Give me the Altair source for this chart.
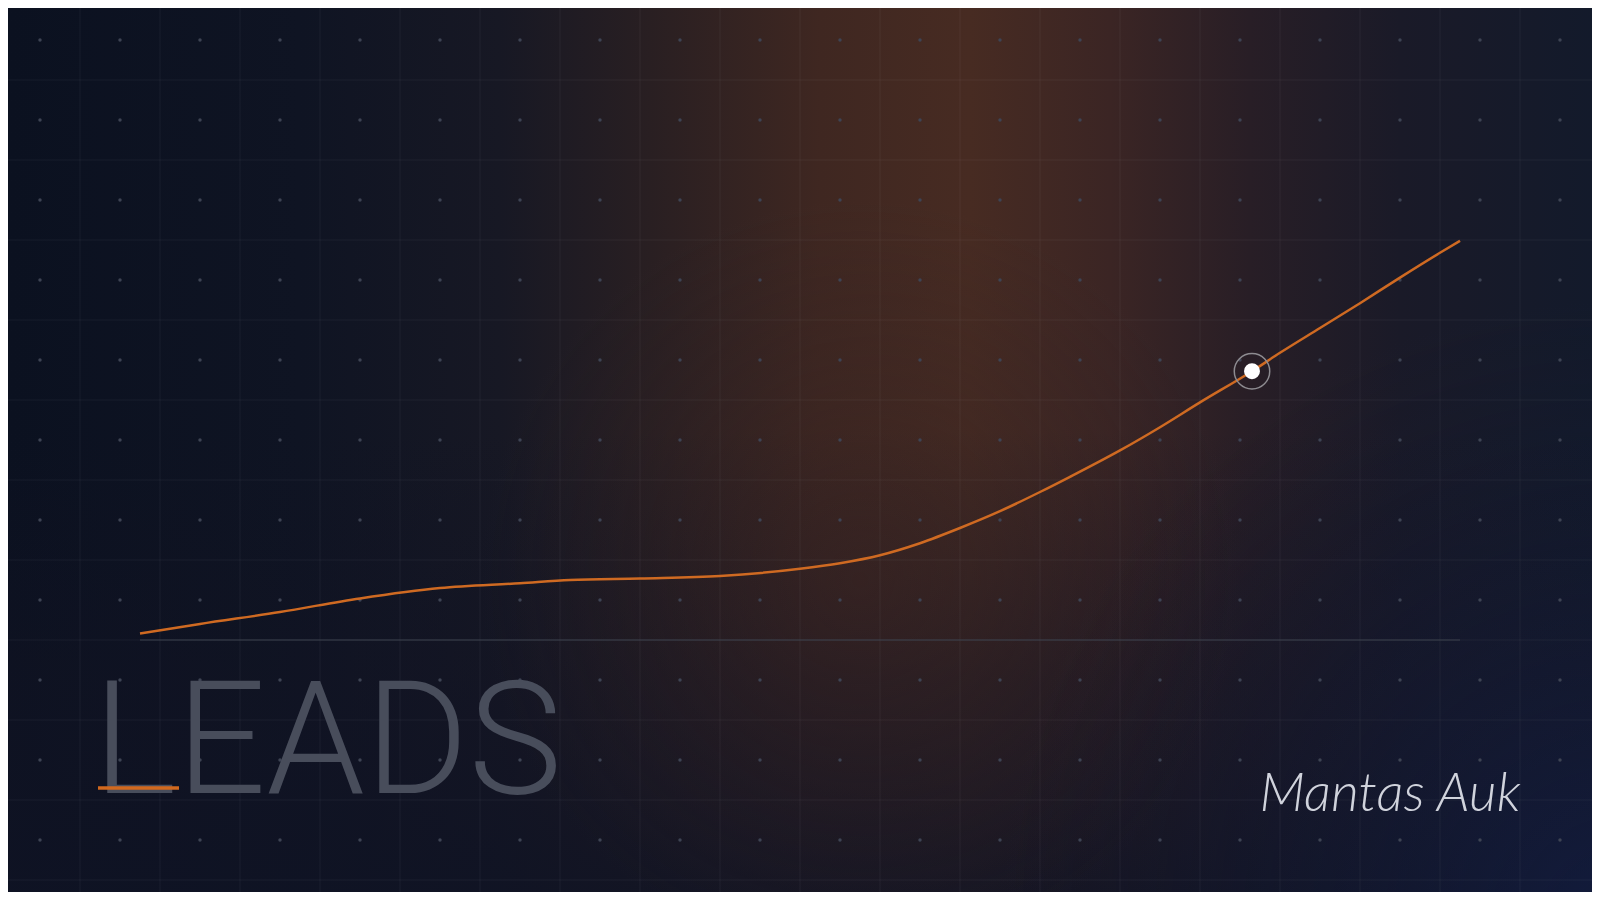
import altair as alt
import pandas as pd

# ---- data ----
week = [1.75, 2.5, 3.5, 4.5, 5.5, 6.5, 7.125, 8, 9, 10, 10.5, 11, 11.5, 12, 12.5,
        13, 13.375, 14, 14.5, 15, 15.65, 16, 16.5, 17, 17.5, 18, 18.25]
leads = [308, 320, 335, 352, 365, 371, 375, 377, 380, 389, 396, 406, 421, 440, 461,
         485, 504, 537, 566, 597, 636, 659, 690, 721, 753, 784, 799]
highlight_week = [15.65]
highlight_leads = [636]
grid_weeks = list(range(1, 20))
grid_leads = list(range(0, 1001, 100))
dot_weeks = [w + 0.5 for w in range(0, 20)]
dot_leads = [v + 50 for v in range(0, 1001, 100)]
baseline_leads = [300]
title_text = ["LEADS"]
signature_text = ["Mantas Auk"]

W, H = 1584, 884
xs = alt.Scale(domain=[0.1, 19.9], nice=False, zero=False)
ys = alt.Scale(domain=[-15, 1090], nice=False, zero=False)

line_df = pd.DataFrame({"week": week, "leads": leads})
hl_df = pd.DataFrame({"week": highlight_week, "leads": highlight_leads})
gx_df = pd.DataFrame({"week": grid_weeks})
gy_df = pd.DataFrame({"leads": grid_leads})
dots_df = pd.DataFrame([(w, v) for w in dot_weeks for v in dot_leads], columns=["week", "leads"])
title_df = pd.DataFrame({"t": title_text})
sig_df = pd.DataFrame({"t": signature_text})
one = pd.DataFrame({"k": [0]})


def stops_of(pairs):
    return [{"offset": o, "color": c} for o, c in pairs]


def sx(px):  # screen x -> gradient offset across the plot
    return round((px - 8) / W, 4)


def sy(py):
    return round((py - 8) / H, 4)


band = alt.Chart(one).mark_rect(
    fill={"gradient": "linear", "x1": 0, "y1": 0, "x2": 1, "y2": 0,
          "stops": stops_of([
              (0, "#0b1120"), (sx(300), "#0f1423"), (sx(500), "#171824"),
              (sx(650), "#291f22"), (sx(820), "#3f2721"), (sx(970), "#472b22"),
              (sx(1110), "#3b2524"), (sx(1250), "#281e26"), (sx(1400), "#1a1a28"),
              (1, "#131a2b")])},
    stroke="transparent",
).encode(x=alt.value(0), x2=alt.value(W), y=alt.value(0), y2=alt.value(H))

fade = alt.Chart(one).mark_rect(
    fill={"gradient": "linear", "x1": 0, "y1": 0, "x2": 0, "y2": 1,
          "stops": stops_of([
              (0, "rgba(16,18,34,0)"), (sy(430), "rgba(16,18,34,0)"),
              (sy(680), "rgba(17,19,35,0.55)"), (1, "rgba(15,19,36,0.85)")])},
    stroke="transparent",
).encode(x=alt.value(0), x2=alt.value(W), y=alt.value(0), y2=alt.value(H))


def glow(cx, cy, r, stops):
    return alt.Chart(one).mark_rect(
        fill={"gradient": "radial", "x1": 0.5, "y1": 0.5, "r1": 0,
              "x2": 0.5, "y2": 0.5, "r2": 0.5, "stops": stops_of(stops)},
        stroke="transparent",
    ).encode(
        x=alt.value(cx - 8 - r), x2=alt.value(cx - 8 + r),
        y=alt.value(cy - 8 - r), y2=alt.value(cy - 8 + r),
    )


glow_mid = glow(860, 580, 380, [
    (0, "rgba(58,36,34,0.45)"), (1, "rgba(40,30,36,0)")])
glow_blue = glow(1620, 920, 620, [
    (0, "rgba(20,32,76,0.6)"), (0.5, "rgba(20,28,60,0.3)"), (1, "rgba(15,20,40,0)")])

vgrid = alt.Chart(gx_df).mark_rule(color="#ffffff", opacity=0.05, strokeWidth=1).encode(
    x=alt.X("week:Q", scale=xs, axis=None), y=alt.value(0), y2=alt.value(H))
hgrid = alt.Chart(gy_df).mark_rule(color="#ffffff", opacity=0.05, strokeWidth=1).encode(
    y=alt.Y("leads:Q", scale=ys, axis=None), x=alt.value(0), x2=alt.value(W))
dots = alt.Chart(dots_df).mark_circle(size=12, color="#3e4454", opacity=1).encode(
    x=alt.X("week:Q", scale=xs, axis=None), y=alt.Y("leads:Q", scale=ys, axis=None))

baseline = alt.Chart(line_df).mark_rule(color="#3b404d", strokeWidth=1).encode(
    x=alt.X("min(week):Q", scale=xs, axis=None), x2="max(week):Q",
    y=alt.Y("bl:Q", scale=ys, axis=None),
).transform_calculate(bl=str(baseline_leads[0]))

line = alt.Chart(line_df).mark_line(color="#cf6a22", strokeWidth=2.5, interpolate="monotone").encode(
    x=alt.X("week:Q", scale=xs, axis=None), y=alt.Y("leads:Q", scale=ys, axis=None))
ring = alt.Chart(hl_df).mark_point(shape="circle", size=1257, filled=False, stroke="#8d8b90",
                                   strokeWidth=1.5, opacity=1).encode(
    x=alt.X("week:Q", scale=xs, axis=None), y=alt.Y("leads:Q", scale=ys, axis=None))
dot_hl = alt.Chart(hl_df).mark_circle(size=254, color="#ffffff", opacity=1).encode(
    x=alt.X("week:Q", scale=xs, axis=None), y=alt.Y("leads:Q", scale=ys, axis=None))

title = alt.Chart(title_df).mark_text(
    align="left", baseline="alphabetic", font="Roboto", fontWeight=300, fontSize=158,
    color="#484d5b").encode(text="t:N", x=alt.value(85), y=alt.value(785))
underline = alt.Chart(one).mark_rule(color="#d2691e", strokeWidth=3.5).encode(
    x=alt.value(90), x2=alt.value(171), y=alt.value(780))
signature = alt.Chart(sig_df).mark_text(
    align="center", baseline="middle", font="Lato", fontStyle="italic", fontWeight=300,
    fontSize=54, color="#d0d3dc").encode(text="t:N", x=alt.value(1382), y=alt.value(787))

chart = alt.layer(
    band, fade, glow_mid, glow_blue, vgrid, hgrid, dots, baseline, line, ring, dot_hl,
    title, underline, signature,
).properties(
    width=W, height=H, background="#0c1221", padding=0,
    autosize=alt.AutoSizeParams(type="none"),
).configure_view(stroke="transparent")

chart.save("out.html", embed_options={"renderer": "svg", "actions": False})
